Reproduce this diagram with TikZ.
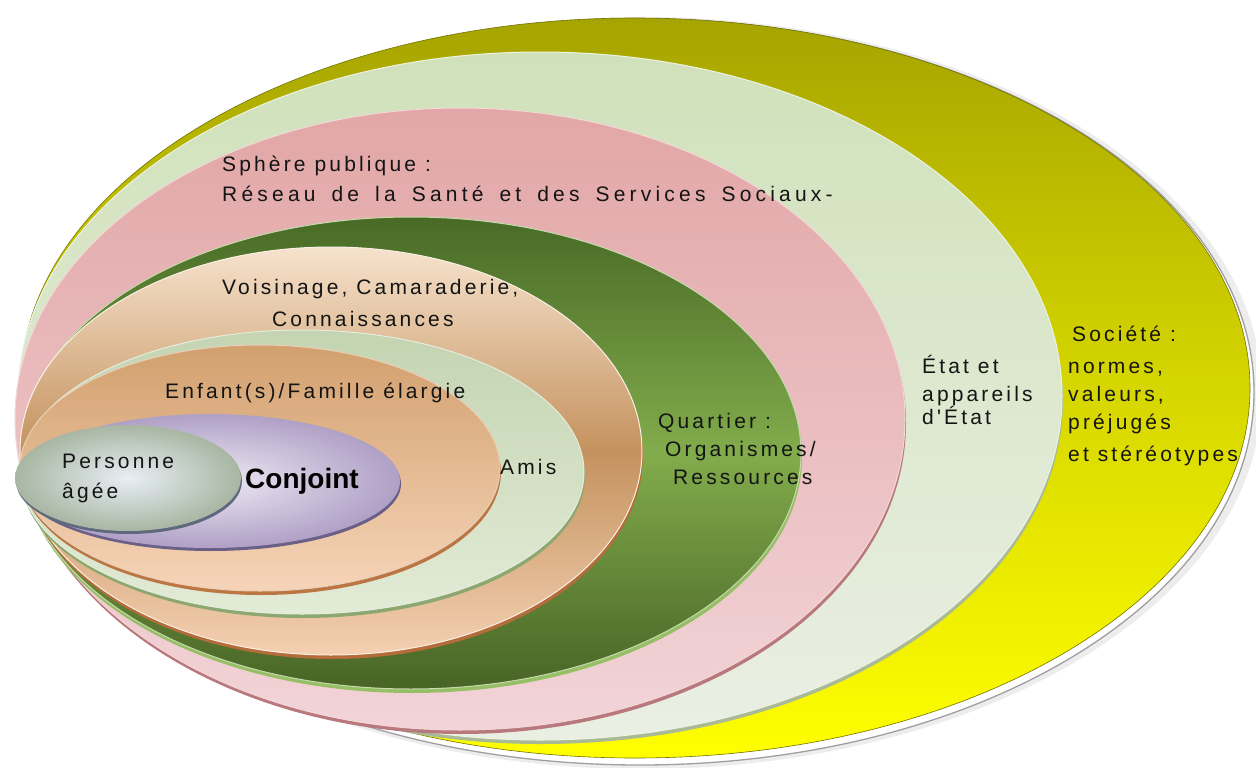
\documentclass[tikz,border=0pt]{standalone}
\usepackage{fontspec}
\setmainfont{Liberation Sans}
\newfontfamily\lblfont[LetterSpace=15]{Liberation Sans}
\newfontfamily\widefont[LetterSpace=20,WordSpace=1.6]{Liberation Sans}
\definecolor{txt}{RGB}{20,20,20}
\definecolor{olv}{RGB}{166,164,0}
\definecolor{ylw}{RGB}{255,255,0}
\definecolor{ylwm}{RGB}{214,214,0}
\definecolor{etat1}{RGB}{208,225,186}
\definecolor{etat2}{RGB}{234,239,228}
\definecolor{etatr}{RGB}{170,185,150}
\definecolor{pink1}{RGB}{226,166,166}
\definecolor{pink2}{RGB}{242,212,216}
\definecolor{pinkr}{RGB}{185,120,125}
\definecolor{dga}{RGB}{72,106,38}
\definecolor{dgb}{RGB}{130,172,76}
\definecolor{dgc}{RGB}{72,100,38}
\definecolor{dgr}{RGB}{150,190,100}
\definecolor{pea}{RGB}{246,226,204}
\definecolor{peb}{RGB}{196,146,94}
\definecolor{pec}{RGB}{244,208,178}
\definecolor{per}{RGB}{180,108,58}
\definecolor{ama}{RGB}{196,212,178}
\definecolor{amb}{RGB}{226,235,214}
\definecolor{amr}{RGB}{140,168,112}
\definecolor{ena}{RGB}{210,160,110}
\definecolor{enb}{RGB}{246,212,184}
\definecolor{enr}{RGB}{188,118,68}
\definecolor{cja}{RGB}{238,233,244}
\definecolor{cjb}{RGB}{176,160,198}
\definecolor{cjr}{RGB}{105,95,135}
\definecolor{paa}{RGB}{232,238,246}
\definecolor{pab}{RGB}{168,182,162}
\definecolor{par}{RGB}{95,105,125}
\tikzset{
  lbl/.style={anchor=base west, inner sep=0pt, text=txt,
    font=\lblfont\fontsize{21}{29}\selectfont},
  widelbl/.style={lbl, font=\widefont\fontsize{21}{29}\selectfont},
  bigbold/.style={anchor=base west, inner sep=0pt, text=black,
    font=\bfseries\fontsize{28}{32}\selectfont},
  edge/.style={draw=#1, line width=1pt}
}
\begin{document}
\begin{tikzpicture}[x=1pt,y=-1pt]
\useasboundingbox (0,0) rectangle (1256,768);
\fill[white] (0,0) rectangle (1256,768);
% soft halo and outer rim
\fill[black,opacity=0.07] (642,393) ellipse [x radius=620pt, y radius=376pt];
\filldraw[fill=white, draw=gray!75, line width=1.3pt] (640,392) ellipse [x radius=614pt, y radius=373pt];
% Societe (yellow)
\shade[top color=olv, bottom color=ylw, middle color=ylwm] (635,388) ellipse [x radius=615pt, y radius=370pt];
\draw[edge=olv!70!black, line width=0.6pt] (635,388) ellipse [x radius=615pt, y radius=370pt];
% Etat
\fill[etatr] (541,400) ellipse [x radius=522pt, y radius=344pt];
\shade[top color=etat1, bottom color=etat2] (540,396) ellipse [x radius=522pt, y radius=344pt];
\draw[edge=white!60!etat1] (540,396) ellipse [x radius=522pt, y radius=344pt];
% Sphere publique
\fill[pinkr] (461,423) ellipse [x radius=445pt, y radius=311pt];
\shade[top color=pink1, bottom color=pink2] (460,419) ellipse [x radius=445pt, y radius=311pt];
\draw[edge=white!55!pink1] (460,419) ellipse [x radius=445pt, y radius=311pt];
% Quartier
\fill[dgr] (412,457) ellipse [x radius=390pt, y radius=236pt];
\shade[top color=dga, bottom color=dgc, middle color=dgb] (411,453) ellipse [x radius=390pt, y radius=236pt];
\draw[edge=white!55!dgb] (411,453) ellipse [x radius=390pt, y radius=236pt];
% Voisinage
\fill[per] (332,455) ellipse [x radius=311pt, y radius=204pt];
\shade[top color=pea, bottom color=pec, middle color=peb] (331,451) ellipse [x radius=311pt, y radius=204pt];
\draw[edge=white!50!pea] (331,451) ellipse [x radius=311pt, y radius=204pt];
% Amis
\fill[amr] (303,476) ellipse [x radius=282pt, y radius=142pt];
\shade[top color=ama, bottom color=amb] (302,472) ellipse [x radius=282pt, y radius=142pt];
\draw[edge=white!55!ama] (302,472) ellipse [x radius=282pt, y radius=142pt];
% Enfant(s)
\fill[enr] (261,472) ellipse [x radius=240pt, y radius=123pt];
\shade[top color=ena, bottom color=enb] (260,468) ellipse [x radius=240pt, y radius=123pt];
\draw[edge=white!50!ena] (260,468) ellipse [x radius=240pt, y radius=123pt];
% Conjoint
\fill[cjr] (211,484) ellipse [x radius=190pt, y radius=67pt];
\shade[inner color=cja, outer color=cjb] (210,481) ellipse [x radius=190pt, y radius=67pt];
% Personne agee
\fill[par] (129,481) ellipse [x radius=113pt, y radius=53pt];
\shade[inner color=paa, outer color=pab] (128,478) ellipse [x radius=113pt, y radius=53pt];
% labels
\node[lbl] (sp1) at (222,171) {Sphère publique :};
\node[widelbl] (sp2) at (222,201) {Réseau de la Santé et des Services Sociaux-};
\node[lbl] (vo1) at (222,294) {Voisinage, Camaraderie,};
\node[lbl] (vo2) at (272,326) {Connaissances};
\node[lbl] (en1) at (165,398) {Enfant(s)/Famille élargie};
\node[lbl] (pa1) at (62,468) {Personne};
\node[lbl] (pa2) at (62,498) {âgée};
\node[bigbold] (cj) at (245,488) {Conjoint};
\node[lbl] (am) at (500,474) {Amis};
\node[lbl] (qu1) at (658,428) {Quartier :};
\node[lbl] (qu2) at (665,456) {Organismes/};
\node[lbl] (qu3) at (673,484) {Ressources};
\node[lbl] (et1) at (922,373) {État et};
\node[lbl] (et2) at (922,401) {appareils};
\node[lbl] (et3) at (922,424) {d'État};
\node[lbl] (so1) at (1072,341) {Société :};
\node[lbl] (so2) at (1068,373) {normes,};
\node[lbl] (so3) at (1068,401) {valeurs,};
\node[lbl] (so4) at (1068,429) {préjugés};
\node[lbl] (so5) at (1068,461) {et stéréotypes};
\end{tikzpicture}
\end{document}
